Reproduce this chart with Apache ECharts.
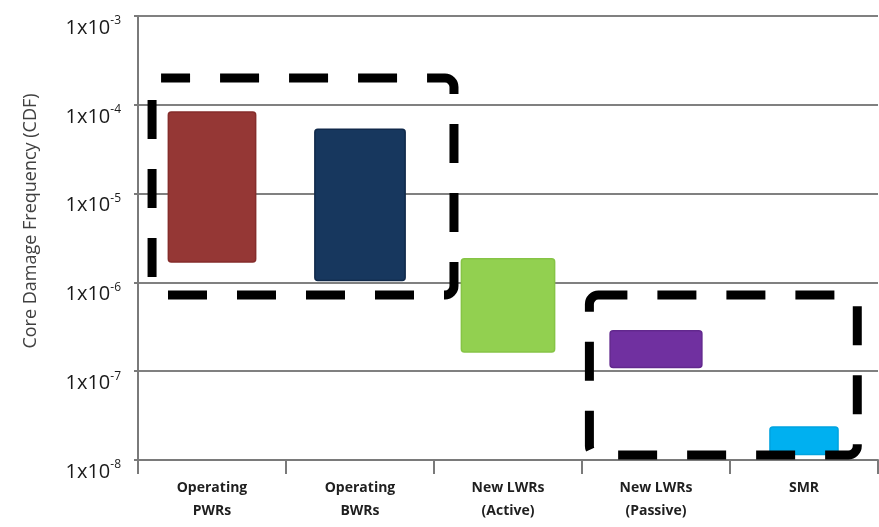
<!DOCTYPE html>
<html>
<head>
<meta charset="utf-8">
<script src="https://cdn.jsdelivr.net/npm/echarts@6/dist/echarts.min.js"></script>
<style>
  html, body { margin: 0; padding: 0; background: #ffffff; }
  #chart { width: 879px; height: 527px; }
</style>
</head>
<body>
<div id="chart"></div>
<script>
// Reactor categories on the x axis
const categories = ['Operating\nPWRs', 'Operating\nBWRs', 'New LWRs\n(Active)', 'New LWRs\n(Passive)', 'SMR'];
// Core damage frequency range per category (per reactor-year)
const cdfLow  = [1.7e-6, 1.05e-6, 1.65e-7, 1.1e-7, 1.15e-8];
const cdfHigh = [8.3e-5, 5.3e-5, 1.85e-6, 2.85e-7, 2.35e-8];
// Decades shown on the log axis
const yMin = 1e-8;
const yMax = 1e-3;

// Grouping boxes: span in category units and CDF range
const groupSpanStart = [-0.405, 2.55];
const groupSpanEnd   = [1.635, 4.36];
const groupLow  = [7.2e-7, 1.14e-8];
const groupHigh = [2.0e-4, 7.2e-7];

const barStyles = [
  { fill: '#953735', stroke: '#852d2b', width: 0.59 },
  { fill: '#17375E', stroke: '#10294a', width: 0.61 },
  { fill: '#92D050', stroke: '#86c445', width: 0.63 },
  { fill: '#7030A0', stroke: '#62288e', width: 0.62 },
  { fill: '#00B0F0', stroke: '#00a3df', width: 0.46 }
];

const chart = echarts.init(document.getElementById('chart'), null, { renderer: 'canvas' });

function bandInfo(api, v) {
  const x0 = api.coord([0, v])[0];
  const x1 = api.coord([1, v])[0];
  return { x0: x0, band: x1 - x0 };
}

const option = {
  backgroundColor: '#ffffff',
  animation: false,
  grid: { left: 138, right: 1, top: 16, bottom: 67, containLabel: false },
  xAxis: {
    type: 'category',
    data: categories,
    boundaryGap: true,
    axisLine: { lineStyle: { color: '#7a7a7a', width: 2 } },
    axisTick: { show: true, interval: 0, length: 14, lineStyle: { color: '#7a7a7a', width: 2 } },
    axisLabel: {
      interval: 0,
      margin: 17,
      fontFamily: 'Open Sans',
      fontSize: 14,
      fontWeight: 'bold',
      lineHeight: 23,
      color: '#1f1f1f'
    },
    splitLine: { show: false }
  },
  yAxis: {
    type: 'log',
    logBase: 10,
    min: yMin,
    max: yMax,
    name: 'Core Damage Frequency (CDF)',
    nameLocation: 'middle',
    nameRotate: 90,
    nameGap: 98,
    nameTextStyle: { fontFamily: 'Open Sans', fontSize: 18, color: '#404040', padding: [0, 0, 0, 34] },
    axisLine: { show: true, lineStyle: { color: '#7a7a7a', width: 2 } },
    axisTick: { show: true, length: 4, lineStyle: { color: '#7a7a7a', width: 2 } },
    splitLine: { show: true, lineStyle: { color: '#808080', width: 2 } },
    axisLabel: {
      margin: 17,
      padding: [24, 0, 0, 0],
      formatter: function (v) {
        const e = Math.round(Math.log10(v));
        return '{b|1x10}{s|' + e + '}';
      },
      rich: {
        b: { fontFamily: 'Open Sans', fontSize: 20, color: '#1a1a1a', lineHeight: 26 },
        s: { fontFamily: 'Open Sans', fontSize: 12, color: '#1a1a1a', verticalAlign: 'top', lineHeight: 15 }
      }
    }
  },
  series: [
    {
      name: 'CDF range',
      type: 'custom',
      coordinateSystem: 'cartesian2d',
      clip: false,
      data: categories.map((c, i) => [i, cdfLow[i], cdfHigh[i]]),
      encode: { x: 0, y: [1, 2] },
      renderItem: function (params, api) {
        const i = params.dataIndex;
        const lo = api.value(1);
        const hi = api.value(2);
        const top = api.coord([i, hi]);
        const bot = api.coord([i, lo]);
        const b = bandInfo(api, hi);
        const st = barStyles[i];
        const w = b.band * st.width;
        return {
          type: 'rect',
          shape: { x: top[0] - w / 2, y: top[1], width: w, height: bot[1] - top[1], r: 3 },
          style: { fill: st.fill, stroke: st.stroke, lineWidth: 1.5 }
        };
      }
    },
    {
      name: 'Groups',
      type: 'custom',
      coordinateSystem: 'cartesian2d',
      clip: false,
      silent: true,
      z: 5,
      data: groupLow.map((lo, k) => [0, lo, groupHigh[k]]),
      encode: { x: 0, y: [1, 2] },
      renderItem: function (params, api) {
        const k = params.dataIndex;
        const hi = api.value(2);
        const lo = api.value(1);
        const b = bandInfo(api, hi);
        const c0 = b.x0;
        const xl = c0 + b.band * groupSpanStart[k];
        const xr = c0 + b.band * groupSpanEnd[k];
        const yt = api.coord([0, hi])[1];
        const yb = api.coord([0, lo])[1];
        return {
          type: 'rect',
          shape: { x: xl, y: yt, width: xr - xl, height: yb - yt, r: 9 },
          style: { fill: 'none', stroke: '#000000', lineWidth: 9, lineDash: [39, 30], lineDashOffset: 10 }
        };
      }
    }
  ]
};

chart.setOption(option);
</script>
</body>
</html>
